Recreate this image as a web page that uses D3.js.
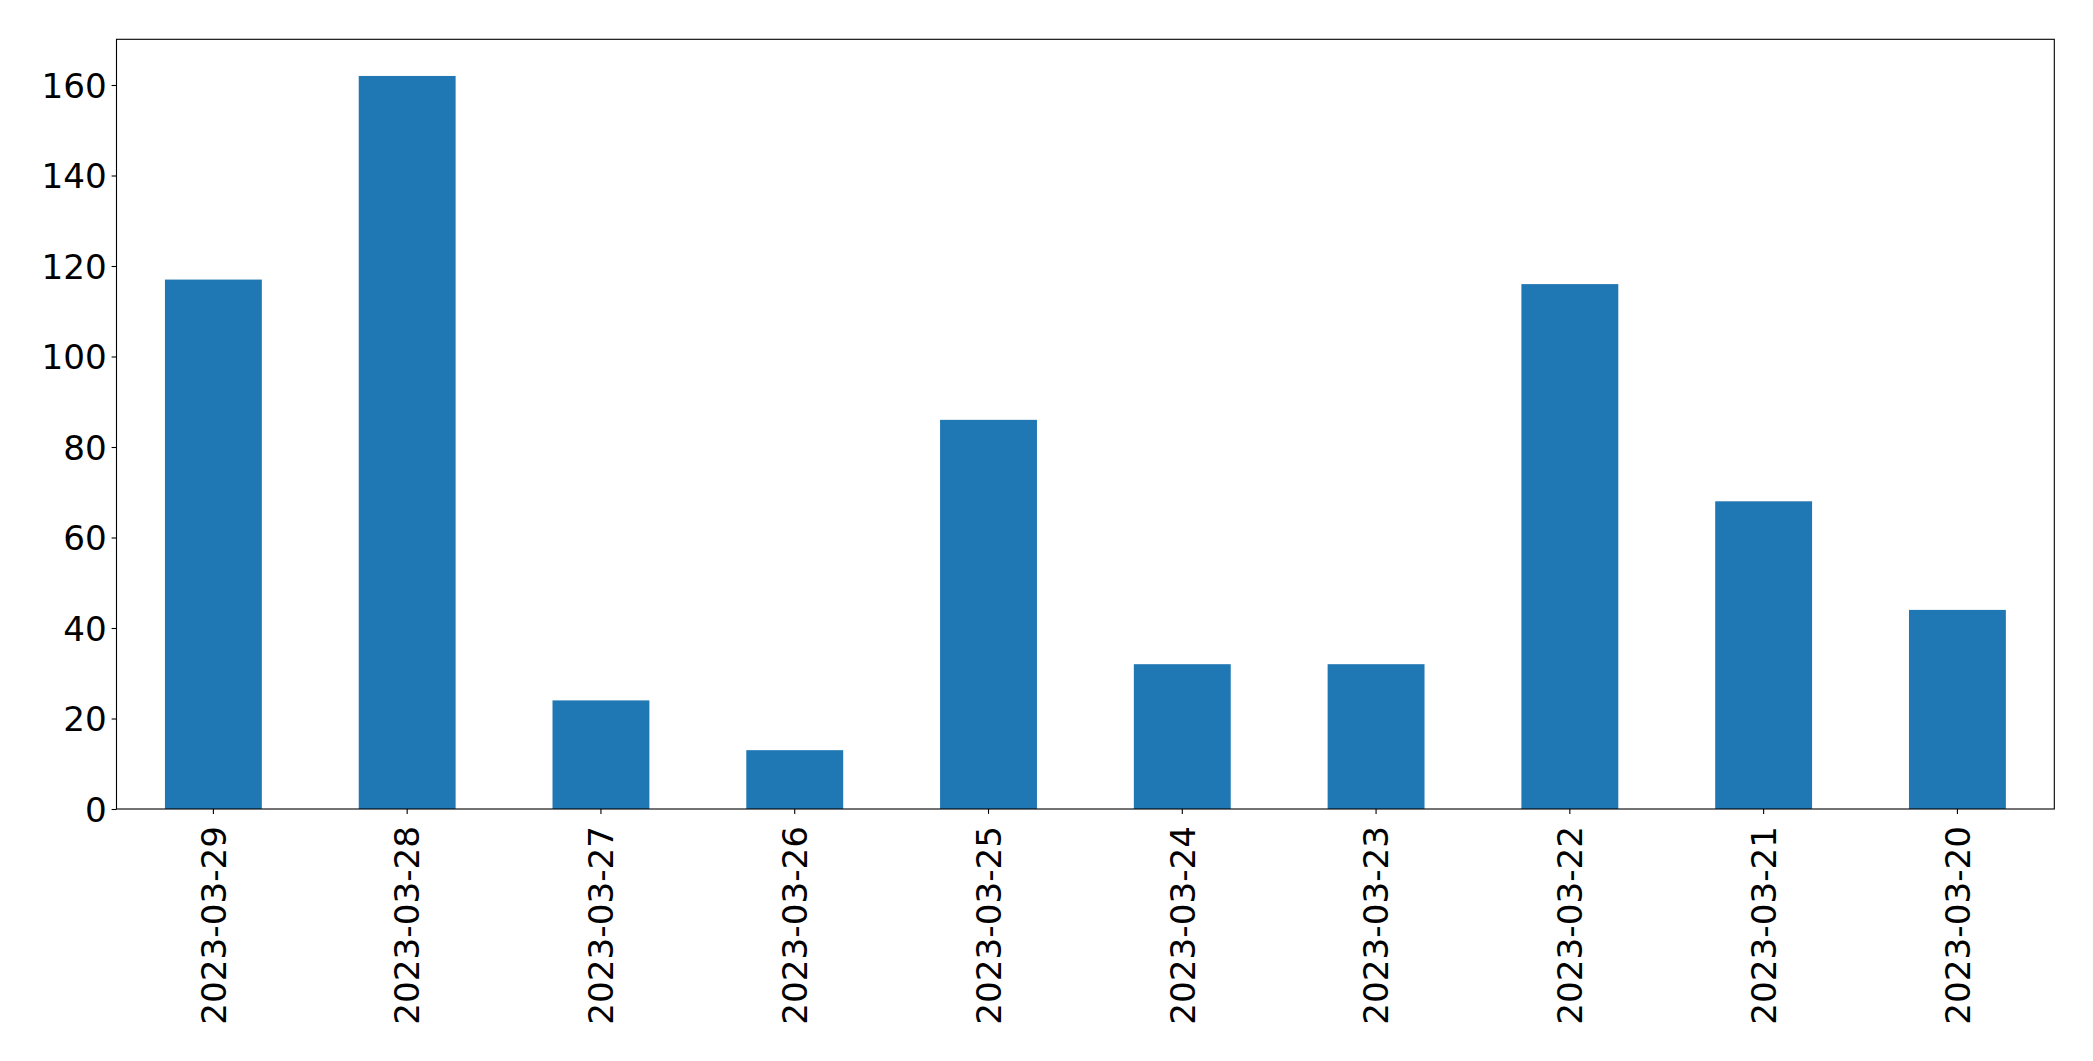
<!DOCTYPE html>
<html>
<head>
<meta charset="utf-8">
<script src="https://cdn.jsdelivr.net/npm/d3@7"></script>
<style>
  html, body { margin: 0; padding: 0; background: #fff; }
  svg { display: block; }
  text { font-family: "DejaVu Sans", sans-serif; fill: #000; }
</style>
</head>
<body>
<svg id="chart" width="2093" height="1061"></svg>
<script>
const categories = ["2023-03-29","2023-03-28","2023-03-27","2023-03-26","2023-03-25","2023-03-24","2023-03-23","2023-03-22","2023-03-21","2023-03-20"];
const values = [117, 162, 24, 13, 86, 32, 32, 116, 68, 44];
const yTicks = [0, 20, 40, 60, 80, 100, 120, 140, 160];

const W = 2093, H = 1061;
const m = { left: 116.5, right: 2054.3, top: 39.3, bottom: 809 };
const svg = d3.select("#chart");

const x = d3.scaleBand().domain(categories).range([m.left, m.right]).paddingInner(0.5).paddingOuter(0.25);
const yMax = d3.max(values) * 1.05;
const y = d3.scaleLinear().domain([0, yMax]).range([m.bottom, m.top]);

const fontSize = 34.2;

svg.append("g").selectAll("rect").data(values).join("rect")
  .attr("x", (d, i) => x(categories[i]))
  .attr("width", x.bandwidth())
  .attr("y", d => y(d))
  .attr("height", d => y(0) - y(d))
  .attr("fill", "#1f77b4");

const yAxis = svg.append("g").attr("transform", `translate(${m.left},0)`)
  .call(d3.axisLeft(y).tickValues(yTicks).tickSize(4.9).tickPadding(4.9).tickFormat(d3.format("d")));
yAxis.select(".domain").remove();
yAxis.selectAll(".tick line").attr("stroke", "#000").attr("stroke-width", 1.1);
yAxis.selectAll(".tick text").attr("font-size", fontSize).attr("font-family", "DejaVu Sans").attr("dy", "0.36em");

const xAxis = svg.append("g").attr("transform", `translate(0,${m.bottom})`)
  .call(d3.axisBottom(x).tickSize(4.9).tickPadding(0));
xAxis.select(".domain").remove();
xAxis.selectAll(".tick line").attr("stroke", "#000").attr("stroke-width", 1.1);
xAxis.selectAll(".tick text")
  .attr("font-size", fontSize).attr("font-family", "DejaVu Sans")
  .attr("text-anchor", "end")
  .attr("transform", "translate(0,17) rotate(-90)")
  .attr("x", 0).attr("y", 0).attr("dy", "0.36em");

svg.append("rect")
  .attr("x", m.left).attr("y", m.top)
  .attr("width", m.right - m.left).attr("height", m.bottom - m.top)
  .attr("fill", "none").attr("stroke", "#000").attr("stroke-width", 1.1);
</script>
</body>
</html>
